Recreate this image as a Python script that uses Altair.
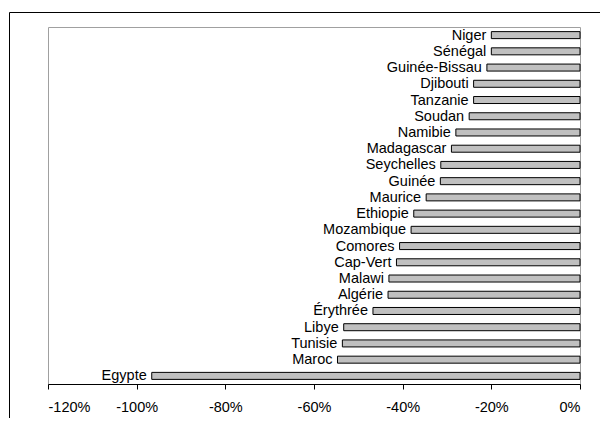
import altair as alt
import pandas as pd

countries = ["Niger", "Sénégal", "Guinée-Bissau", "Djibouti", "Tanzanie", "Soudan",
             "Namibie", "Madagascar", "Seychelles", "Guinée", "Maurice", "Ethiopie",
             "Mozambique", "Comores", "Cap-Vert", "Malawi", "Algérie", "Érythrée",
             "Libye", "Tunisie", "Maroc", "Egypte"]
values = [-20, -20, -21, -24, -24, -25, -28, -29, -31.4, -31.5, -34.7, -37.5,
          -38.1, -40.7, -41.4, -43.1, -43.3, -46.7, -53.3, -53.6, -54.7, -96.6]
tick_values = [-120, -100, -80, -60, -40, -20, 0]

df = pd.DataFrame({"pays": countries, "valeur": values})

FONT = "Liberation Sans"
FS = 14.5

x_enc = alt.X("valeur:Q",
              scale=alt.Scale(domain=[-120, 0], nice=False, zero=True),
              axis=alt.Axis(values=tick_values, labelExpr="datum.value + '%'",
                            grid=False, title=None, tickSize=5, labelPadding=11,
                            domainColor="#000000", tickColor="#000000",
                            labelColor="#000000", labelFontSize=FS, labelFont=FONT,
                            domainWidth=1, tickWidth=1))
y_enc = alt.Y("pays:N", sort=countries,
              scale=alt.Scale(paddingInner=0, paddingOuter=0),
              axis=None)

bars = alt.Chart(df).mark_bar(size=7, color="#c0c0c0", stroke="#000000",
                              strokeWidth=1).encode(x=x_enc, y=y_enc)

labels = alt.Chart(df).mark_text(align="right", baseline="middle", dx=-5, dy=0.5,
                                 fontSize=FS, font=FONT, color="#000000").encode(
    x=alt.X("valeur:Q"), y=alt.Y("pays:N", sort=countries), text="pays:N")

border_data = alt.Data(values=[{"a": 1}])
top_rule = alt.Chart(border_data).mark_rule(color="#000000", strokeWidth=1).encode(
    x=alt.value(-38.5), x2=alt.value(700), y=alt.value(-14.5))
left_rule = alt.Chart(border_data).mark_rule(color="#000000", strokeWidth=1).encode(
    x=alt.value(-38.5), y=alt.value(-14.5), y2=alt.value(600))

chart = alt.layer(bars, labels, top_rule, left_rule).properties(
    width=532, height=357,
    autosize=alt.AutoSizeParams(type="none"),
    padding={"left": 40, "top": 19, "right": 20, "bottom": 34},
    background="#ffffff",
).configure_view(stroke="#a0a0a0", strokeWidth=1)

chart.save("out.html", embed_options={"renderer": "svg", "actions": False})
